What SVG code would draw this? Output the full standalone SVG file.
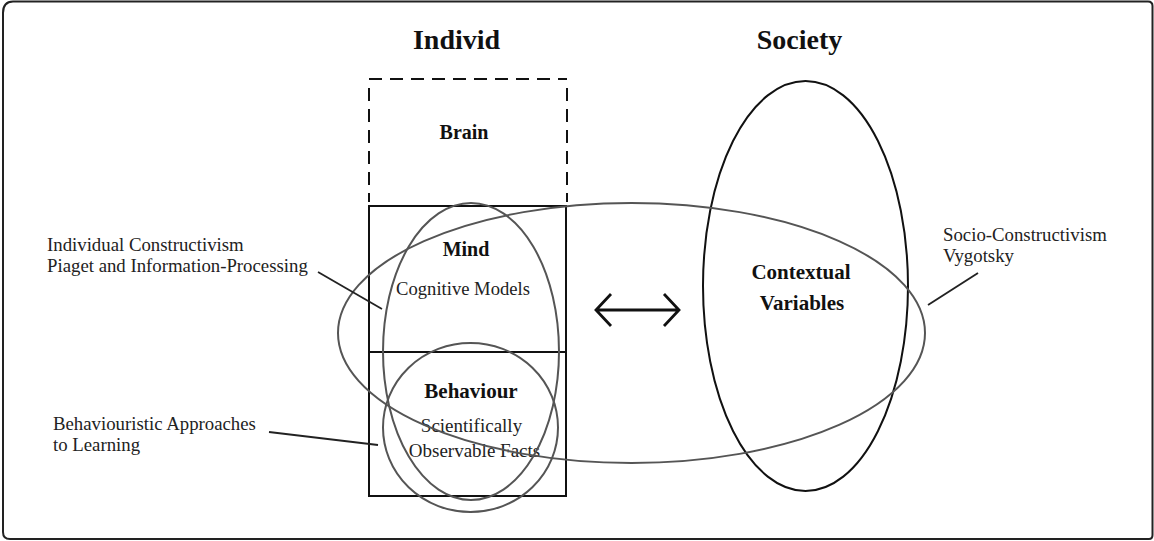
<svg xmlns="http://www.w3.org/2000/svg" width="1154" height="541" viewBox="0 0 1154 541">
<style>
.title{font-family:"Liberation Serif",serif;font-weight:bold;font-size:28px;fill:#111;text-anchor:middle}
.head{font-family:"Liberation Serif",serif;font-weight:bold;font-size:20px;fill:#111;text-anchor:middle}
.sub{font-family:"Liberation Serif",serif;font-size:19px;fill:#222;text-anchor:middle}
.lab{font-family:"Liberation Serif",serif;font-size:18.8px;fill:#222}
.box{fill:none;stroke:#111;stroke-width:2}
.dash{fill:none;stroke:#111;stroke-width:2;stroke-dasharray:13 8}
.gray{fill:none;stroke:#555;stroke-width:2}
.blk{fill:none;stroke:#111;stroke-width:2}
.line{fill:none;stroke:#222;stroke-width:1.8}
</style>
<rect x="0" y="0" width="1154" height="541" fill="#fff"/>
<path d="M13,1.5 H1148 Q1152.5,1.5 1152.5,6 V535 Q1152.5,539 1149,539 H10 Q3,539 3,532 V13 Q3,1.5 13,1.5 Z" fill="none" stroke="#222" stroke-width="2"/>
<g id="individ-title"><text class="title" x="456.5" y="49">Individ</text></g>
<g id="society-title"><text class="title" x="799.5" y="49">Society</text></g>
<g id="brain">
<path class="dash" d="M369,79 H567"/>
<path class="dash" d="M369,88 V202 M567,88 V202"/>
<text class="head" x="464" y="139">Brain</text>
</g>
<g id="mind">
<rect class="box" x="369" y="206" width="197" height="146"/>
<text class="head" x="466" y="256">Mind</text>
<text class="sub" x="463" y="295" style="font-size:18.6px">Cognitive Models</text>
</g>
<g id="behaviour">
<rect class="box" x="369" y="352" width="197" height="144"/>
<text class="head" x="471" y="398" style="font-size:21px">Behaviour</text>
<text class="sub" x="471.5" y="432">Scientifically</text>
<text class="sub" x="474.5" y="457">Observable Facts</text>
</g>
<g id="individual-constructivism">
<ellipse class="gray" cx="471" cy="351.5" rx="88" ry="148.5"/>
</g>
<g id="behaviouristic">
<ellipse class="gray" cx="470.5" cy="427.5" rx="87.5" ry="84.5"/>
</g>
<g id="contextual-variables">
<ellipse class="blk" cx="805.5" cy="286" rx="102.5" ry="205"/>
<text class="head" x="801" y="279" style="font-size:21px">Contextual</text>
<text class="head" x="802" y="310" style="font-size:21px">Variables</text>
</g>
<g id="socio-constructivism">
<ellipse class="gray" cx="631.5" cy="333" rx="293.5" ry="130"/>
</g>
<g id="label-individual">
<text class="lab" x="47" y="251">Individual Constructivism</text>
<text class="lab" x="47" y="272">Piaget and Information-Processing</text>
</g>
<g id="label-behaviouristic">
<text class="lab" x="53" y="430">Behaviouristic Approaches</text>
<text class="lab" x="53" y="451">to Learning</text>
</g>
<g id="label-socio">
<text class="lab" x="943" y="241">Socio-Constructivism</text>
<text class="lab" x="943" y="262">Vygotsky</text>
</g>
<g id="connectors">
<line class="line" x1="318" y1="272" x2="382" y2="309"/>
<line class="line" x1="269" y1="432" x2="378" y2="445"/>
<line class="line" x1="978" y1="273" x2="928" y2="305"/>
<path d="M596,310 H679 M611,294 L596,310 L611,326 M664,294 L679,310 L664,326" fill="none" stroke="#111" stroke-width="2.8"/>
</g>
</svg>
